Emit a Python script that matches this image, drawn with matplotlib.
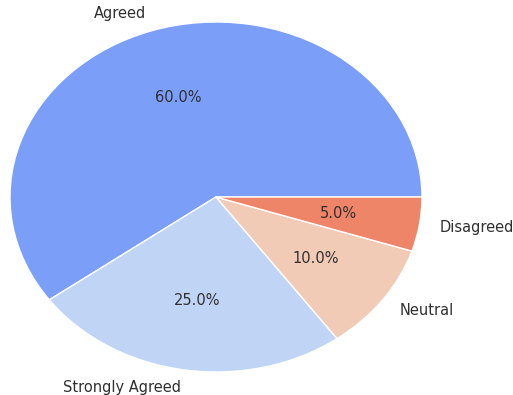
import matplotlib
matplotlib.use("Agg")
import matplotlib.pyplot as plt

labels = ["Agreed", "Strongly Agreed", "Neutral", "Disagreed"]
shares = [60, 25, 10, 5]
colors = ["#7b9ff9", "#c0d4f5", "#f2cbb7", "#ee8468"]

fig = plt.figure(figsize=(5.13, 3.95), dpi=100)
ax = fig.add_axes([10 / 513, 23 / 395, 412 / 513, 350 / 395])

ax.pie(shares, labels=labels, colors=colors, autopct="%1.1f%%",
       startangle=0, wedgeprops={"edgecolor": "white", "linewidth": 1},
       textprops={"color": "#303030", "fontsize": 10.5})
ax.set_aspect("auto")
ax.set_xlim(-1, 1)
ax.set_ylim(-1, 1)

fig.savefig("out.png", dpi=100)
